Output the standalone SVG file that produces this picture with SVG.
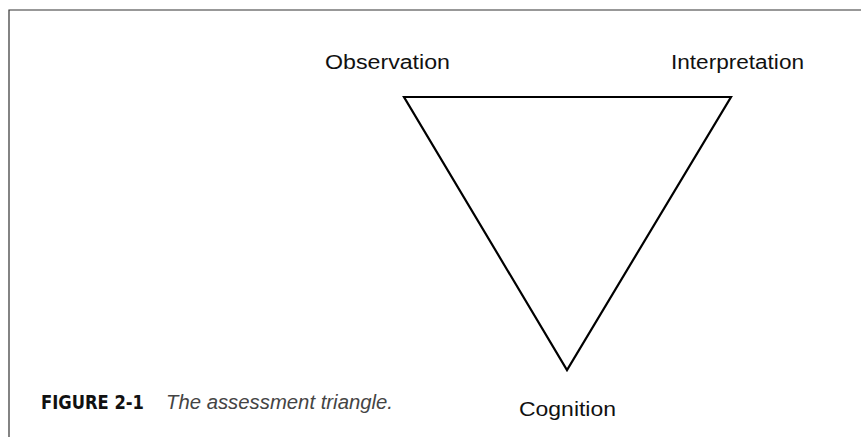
<svg xmlns="http://www.w3.org/2000/svg" width="861" height="437" viewBox="0 0 861 437">
<style>
.lbl{font-family:"Liberation Sans",Arial,sans-serif;font-size:20px;fill:#111}
.fig{font-family:"DejaVu Sans Condensed","Liberation Sans",sans-serif;font-weight:900;font-size:19px;fill:#111}
.cap{font-family:"Liberation Sans",Arial,sans-serif;font-style:italic;font-size:20px;fill:#444}
</style>
<rect width="861" height="437" fill="#fff"/>
<g id="frame">
<polyline points="9,437 9,10 861,10" fill="none" stroke="#333" stroke-width="1.2"/>
</g>
<g id="connectors">
<polygon points="404,97 731,97 567,370" fill="none" stroke="#000" stroke-width="2.2" stroke-linejoin="miter"/>
</g>
<g id="observation"><text class="lbl" x="325" y="69" textLength="125" lengthAdjust="spacingAndGlyphs">Observation</text></g>
<g id="interpretation"><text class="lbl" x="671" y="69" textLength="133" lengthAdjust="spacingAndGlyphs">Interpretation</text></g>
<g id="cognition"><text class="lbl" x="519" y="416" textLength="97" lengthAdjust="spacingAndGlyphs">Cognition</text></g>
<g id="caption">
<text class="fig" x="41" y="409" textLength="103" lengthAdjust="spacingAndGlyphs">FIGURE 2-1</text>
<text class="cap" x="166" y="409" textLength="227" lengthAdjust="spacingAndGlyphs">The assessment triangle.</text>
</g>
</svg>
